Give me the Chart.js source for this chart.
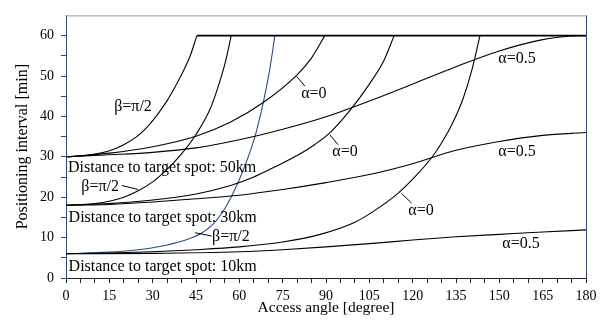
<!DOCTYPE html>
<html>
<head>
<meta charset="utf-8">
<script src="https://cdn.jsdelivr.net/npm/chart.js@4.4.1/dist/chart.umd.min.js"></script>
<style>
  html,body{margin:0;padding:0;background:#fff;}
</style>
</head>
<body>
<canvas id="chart" width="610" height="323"></canvas>
<script>
// access angle [degree] / positioning interval [min]
const d50BetaX = [0, 5, 10, 15, 20, 24.5, 28, 31.4, 35, 38.3, 41, 43, 45.3];
const d50BetaY = [30, 30.2, 30.7, 31.5, 33, 35, 37.3, 40.2, 43.9, 48, 51.8, 55, 60];
const d50A0X = [0, 15, 30, 45, 57, 68, 80, 85, 89.6];
const d50A0Y = [30, 30.9, 32.5, 35.1, 38.6, 43.3, 50.3, 54.5, 60];
const d50A05X = [0, 15, 30, 45, 60, 75, 90, 105, 120, 135, 150, 165, 175, 180];
const d50A05Y = [30, 30.5, 31.1, 32.2, 34.2, 36.8, 39.9, 43.8, 48, 52.3, 56.2, 59, 59.9, 60];

const d30BetaX = [0, 10, 20, 25, 30, 35, 40, 45, 50, 52.5, 55, 57.2];
const d30BetaY = [18, 18.4, 20, 21.6, 23.8, 26.9, 30.7, 35.5, 42, 47, 53, 60];
const d30A0X = [0, 15, 30, 45, 57, 65, 72, 80, 86, 91.4, 98.3, 105, 110, 113.6];
const d30A0Y = [18, 18.4, 19.3, 20.8, 22.9, 25, 27.4, 30.3, 33, 36, 41.5, 48, 53.8, 60];
const d30A05X = [0, 15, 30, 45, 60, 75, 90, 105, 120, 135, 150, 165, 180];
const d30A05Y = [18, 18.2, 18.8, 19.6, 20.5, 21.9, 23.6, 25.6, 28.3, 31.6, 33.8, 35.3, 36];

const d10BetaX = [0, 15, 25, 32.5, 40, 46.4, 51, 55, 58, 61.4, 65.4, 68.3, 70.5, 72.3];
const d10BetaY = [6, 6.4, 7, 7.8, 9.1, 10.9, 13.4, 17.2, 21.2, 26.8, 35, 43.5, 51.5, 60];
const d10A0X = [0, 15, 30, 45, 60, 75, 88, 100, 106.4, 114.5, 121, 127, 130, 134, 137.5, 140.5, 143.3];
const d10A0Y = [6, 6.2, 6.5, 7, 7.7, 8.9, 10.8, 13.8, 16.5, 20.7, 25.2, 30.2, 33.4, 38.6, 44.5, 51.5, 60];
const d10A05X = [0, 30, 60, 75, 90, 105, 120, 135, 150, 165, 180];
const d10A05Y = [6, 6.1, 6.5, 7, 7.7, 8.5, 9.4, 10.2, 10.8, 11.4, 11.9];

// upper limit where the steep curves end
const limitX = [45.3, 180];
const limitY = [60, 60];

const xTicks = [0, 15, 30, 45, 60, 75, 90, 105, 120, 135, 150, 165, 180];
const yTicks = [0, 10, 20, 30, 40, 50, 60];

// text on the plot, placed in data units
const notes = [
  {t: 'β=π/2', x: 23.2, y: 42.3},
  {t: 'α=0', x: 85.8, y: 45.7},
  {t: 'α=0', x: 96.6, y: 31.2},
  {t: 'α=0.5', x: 156.1, y: 54.2},
  {t: 'α=0.5', x: 156.1, y: 31.2},
  {t: 'α=0', x: 122.9, y: 16.7},
  {t: 'α=0.5', x: 157.5, y: 8.5},
  {t: 'β=π/2', x: 11.8, y: 22.5},
  {t: 'β=π/2', x: 57.1, y: 10.2},
  {t: 'Distance to target spot: 50km', x: 0.7, y: 27.3, left: true},
  {t: 'Distance to target spot: 30km', x: 0.9, y: 15, left: true},
  {t: 'Distance to target spot: 10km', x: 0.9, y: 2.7, left: true}
];
const leaders = [
  [79.8, 49.9, 82.7, 47.5],
  [91.4, 35.4, 94.2, 33],
  [116.2, 20.9, 119.7, 18.5],
  [19.3, 22.9, 25, 21.9],
  [44.7, 11.2, 50.4, 10.4]
];

const pts = (xs, ys) => xs.map((x, i) => ({x, y: ys[i]}));
const curve = (xs, ys, color, w) => ({
  data: pts(xs, ys), borderColor: color, borderWidth: w || 1.1,
  pointRadius: 0, cubicInterpolationMode: 'monotone', fill: false
});

const serif = '"Liberation Serif", "Times New Roman", serif';

const notesPlugin = {
  id: 'notes',
  afterDatasetsDraw(chart){
    const {ctx, scales: {x, y}, chartArea: a} = chart;
    ctx.save();
    ctx.fillStyle = '#000';
    ctx.font = '16px ' + serif;
    ctx.textBaseline = 'middle';
    notes.forEach(n => {
      ctx.textAlign = n.left ? 'left' : 'center';
      ctx.fillText(n.t, x.getPixelForValue(n.x), y.getPixelForValue(n.y));
    });
    ctx.strokeStyle = '#000'; ctx.lineWidth = 1;
    leaders.forEach(l => {
      ctx.beginPath();
      ctx.moveTo(x.getPixelForValue(l[0]), y.getPixelForValue(l[1]));
      ctx.lineTo(x.getPixelForValue(l[2]), y.getPixelForValue(l[3]));
      ctx.stroke();
    });
    // frame: top and right edges
    ctx.lineWidth = 1;
    ctx.strokeStyle = '#8d9db3';
    ctx.beginPath(); ctx.moveTo(a.left, a.top + 0.5); ctx.lineTo(a.right, a.top + 0.5); ctx.stroke();
    ctx.strokeStyle = '#2c4a7a';
    ctx.beginPath(); ctx.moveTo(a.right + 0.5, a.top); ctx.lineTo(a.right + 0.5, a.bottom); ctx.stroke();
    ctx.restore();
  }
};

new Chart(document.getElementById('chart'), {
  type: 'line',
  data: {
    datasets: [
      curve(limitX, limitY, '#000', 1.8),
      curve(d50BetaX, d50BetaY, '#000'),
      curve(d50A0X, d50A0Y, '#000'),
      curve(d50A05X, d50A05Y, '#000'),
      curve(d30BetaX, d30BetaY, '#000'),
      curve(d30A0X, d30A0Y, '#000'),
      curve(d30A05X, d30A05Y, '#000'),
      curve(d10A0X, d10A0Y, '#000'),
      curve(d10A05X, d10A05Y, '#000'),
      curve(d10BetaX, d10BetaY, '#2b4f86')
    ]
  },
  options: {
    responsive: false,
    animation: false,
    events: [],
    layout: {padding: {top: 9, right: 24, left: 0, bottom: 0}},
    plugins: {legend: {display: false}, tooltip: {enabled: false}},
    scales: {
      x: {
        type: 'linear', min: 0, max: 180,
        afterFit: s => { s.height = 45; },
        ticks: {
          stepSize: 5, autoSkip: false, maxRotation: 0, padding: 5,
          color: '#000', font: {family: serif, size: 14},
          callback: v => xTicks.includes(v) ? String(v) : ''
        },
        grid: {drawOnChartArea: false, tickLength: 5, color: '#222'},
        border: {color: '#222', width: 1},
        title: {display: true, text: 'Access angle [degree]', color: '#000',
          font: {family: serif, size: 15.5}, padding: {bottom: 6, top: 0}}
      },
      y: {
        min: 0, max: 65,
        afterFit: s => { s.width = 66; },
        ticks: {
          stepSize: 5, autoSkip: false, padding: 7,
          color: '#000', font: {family: serif, size: 14},
          callback: v => yTicks.includes(v) ? String(v) : ''
        },
        grid: {drawOnChartArea: false, tickLength: 5,
          color: c => (c.tick && c.tick.value === 65) ? 'rgba(0,0,0,0)' : '#2c4a7a'},
        border: {color: '#2c4a7a', width: 1},
        title: {display: true, text: 'Positioning interval [min]', color: '#000',
          font: {family: serif, size: 16}, padding: {top: 13, bottom: 0}}
      }
    }
  },
  plugins: [notesPlugin]
});
</script>
</body>
</html>
